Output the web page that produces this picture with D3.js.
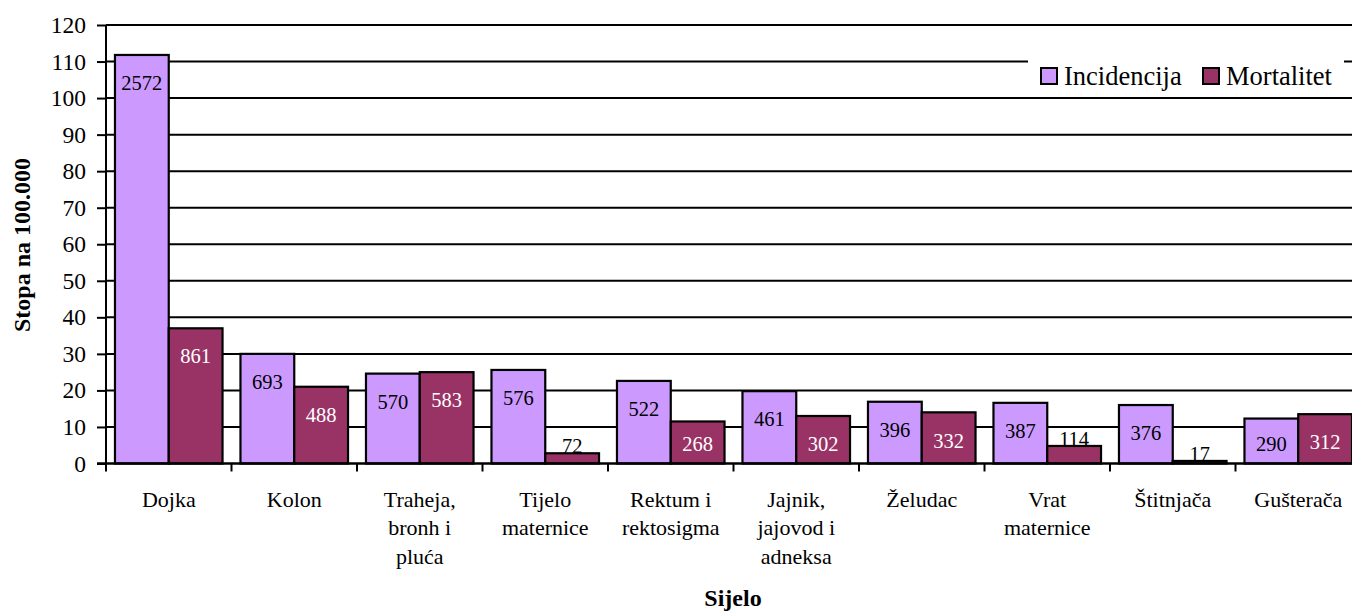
<!DOCTYPE html>
<html>
<head>
	<meta charset="utf-8">
	<script src="https://cdnjs.cloudflare.com/ajax/libs/d3/7.8.5/d3.min.js"></script>
	<style>
		body { margin: 0; background: #fff; }
		svg text { font-family: "Liberation Serif", "Times New Roman", serif !important; }
		.y-axis path { display: none; }
		.y-axis line { stroke: #000; stroke-width: 2; }
		.y-axis text { font-size: 23.5px; fill: #000; }
	</style>
</head>
<body>
	<svg width="1352" height="612"></svg>
	<script>
	// categories (wrapped as in the original)
	var categories = ["Dojka", "Kolon", "Traheja, bronh i pluća", "Tijelo maternice", "Rektum i rektosigma",
		"Jajnik, jajovod i adneksa", "Želudac", "Vrat maternice", "Štitnjača", "Gušterača"];
	var categoryLines = [["Dojka"], ["Kolon"], ["Traheja,", "bronh i", "pluća"], ["Tijelo", "maternice"],
		["Rektum i", "rektosigma"], ["Jajnik,", "jajovod i", "adneksa"], ["Želudac"], ["Vrat", "maternice"],
		["Štitnjača"], ["Gušterača"]];
	// rates per 100.000
	var incidencija = [111.8, 30.0, 24.6, 25.6, 22.6, 19.8, 16.9, 16.6, 16.0, 12.3];
	var mortalitet = [37.0, 21.0, 25.0, 2.8, 11.5, 13.0, 14.0, 4.8, 0.7, 13.5];
	// counts shown as labels
	var incidencijaN = [2572, 693, 570, 576, 522, 461, 396, 387, 376, 290];
	var mortalitetN = [861, 488, 583, 72, 268, 302, 332, 114, 17, 312];
	var seriesNames = ["Incidencija", "Mortalitet"];
	var seriesColors = ["#cc99ff", "#993366"];
	var yTicks = [0, 10, 20, 30, 40, 50, 60, 70, 80, 90, 100, 110, 120];

	var FONT = "Liberation Serif, Times New Roman, serif";

	var svg = d3.select("svg"),
		margin = {top: 25, right: -9, bottom: 148.5, left: 106},
		width = +svg.attr("width") - margin.left - margin.right,
		height = +svg.attr("height") - margin.top - margin.bottom,
		g = svg.append("g").attr("transform", "translate(" + margin.left + "," + margin.top + ")");

	var x0 = d3.scaleBand().domain(categories).range([0, width]).paddingInner(0.143).paddingOuter(0.0715),
		x1 = d3.scaleBand().domain(seriesNames).range([0, x0.bandwidth()]),
		y = d3.scaleLinear().domain([0, 120]).range([height, 0]);

	var data = categories.map(function(c, i) {
		return {cat: c, values: [
			{s: seriesNames[0], v: incidencija[i], n: incidencijaN[i]},
			{s: seriesNames[1], v: mortalitet[i], n: mortalitetN[i]}
		]};
	});

	// gridlines
	g.selectAll(".grid").data(yTicks.filter(function(t) { return t > 0; }))
		.enter().append("line")
		.attr("x1", 0).attr("x2", width)
		.attr("y1", function(d) { return y(d); }).attr("y2", function(d) { return y(d); })
		.attr("stroke", "#000").attr("stroke-width", 2);

	// legend background hides part of the 110 gridline
	var legend = svg.append("g");
	legend.append("rect").attr("x", 1028).attr("y", 52).attr("width", 316).attr("height", 40).attr("fill", "#fff");

	// bars
	var groups = g.selectAll(".grp").data(data).enter().append("g")
		.attr("transform", function(d) { return "translate(" + x0(d.cat) + ",0)"; });

	groups.selectAll("rect").data(function(d) { return d.values; })
		.enter().append("rect")
		.attr("x", function(d) { return x1(d.s); })
		.attr("y", function(d) { return y(d.v); })
		.attr("width", x1.bandwidth())
		.attr("height", function(d) { return y(0) - y(d.v); })
		.attr("fill", function(d, i) { return seriesColors[i]; })
		.attr("stroke", "#000").attr("stroke-width", 2.2);

	// value labels (counts)
	groups.selectAll("text").data(function(d) { return d.values; })
		.enter().append("text")
		.attr("x", function(d) { return x1(d.s) + x1.bandwidth() / 2; })
		.attr("y", function(d) {
			var h = y(0) - y(d.v);
			if (h < 22) return y(d.v) - 7;
			return Math.min(y(d.v) + 28, y(0) - 20);
		})
		.attr("dy", "0.35em")
		.attr("text-anchor", "middle")
		.attr("font-family", FONT)
		.style("font-size", "20.5px")
		.attr("fill", function(d, i) {
			var h = y(0) - y(d.v);
			return (i === 1 && h >= 22) ? "#fff" : "#000";
		})
		.text(function(d) { return d.n; });

	// y axis
	g.append("g").attr("class", "y-axis")
		.call(d3.axisLeft(y).tickValues(yTicks).tickSize(9).tickPadding(11).tickFormat(d3.format("d")))
		.attr("font-family", FONT);
	g.append("line").attr("x1", 0).attr("x2", 0).attr("y1", 0).attr("y2", height)
		.attr("stroke", "#000").attr("stroke-width", 2);

	// x axis: baseline and ticks at category boundaries
	g.append("line").attr("x1", -9).attr("x2", width).attr("y1", height).attr("y2", height)
		.attr("stroke", "#000").attr("stroke-width", 2.5);
	g.selectAll(".xtick").data(d3.range(categories.length + 1))
		.enter().append("line")
		.attr("x1", function(i) { return i * x0.step(); }).attr("x2", function(i) { return i * x0.step(); })
		.attr("y1", height).attr("y2", height + 8)
		.attr("stroke", "#000").attr("stroke-width", 2);

	// category labels
	var cl = g.selectAll(".cat").data(categories).enter().append("text")
		.attr("text-anchor", "middle")
		.attr("font-family", FONT)
		.style("font-size", "22px")
		.attr("transform", function(d) { return "translate(" + (x0(d) + x0.bandwidth() / 2) + "," + (height + 43) + ")"; });
	cl.selectAll("tspan").data(function(d, i) { return categoryLines[i]; })
		.enter().append("tspan")
		.attr("x", 0).attr("dy", function(d, i) { return i === 0 ? 0 : 28.5; })
		.text(function(d) { return d; });

	// axis titles
	svg.append("text")
		.attr("transform", "translate(30,245) rotate(-90)")
		.attr("text-anchor", "middle")
		.attr("font-family", FONT)
		.style("font-size", "24px").style("font-weight", "bold")
		.text("Stopa na 100.000");
	svg.append("text")
		.attr("x", 733).attr("y", 606)
		.attr("text-anchor", "middle")
		.attr("font-family", FONT)
		.style("font-size", "24px").style("font-weight", "bold")
		.text("Sijelo");

	// legend
	var legendX = [1041, 1203];
	seriesNames.forEach(function(s, i) {
		legend.append("rect").attr("x", legendX[i]).attr("y", 68).attr("width", 16).attr("height", 16)
			.attr("fill", seriesColors[i]).attr("stroke", "#000").attr("stroke-width", 2);
		legend.append("text").attr("x", legendX[i] + 23).attr("y", 85)
			.attr("font-family", FONT)
			.style("font-size", "26.5px").text(s);
	});
	</script>
</body>
</html>
